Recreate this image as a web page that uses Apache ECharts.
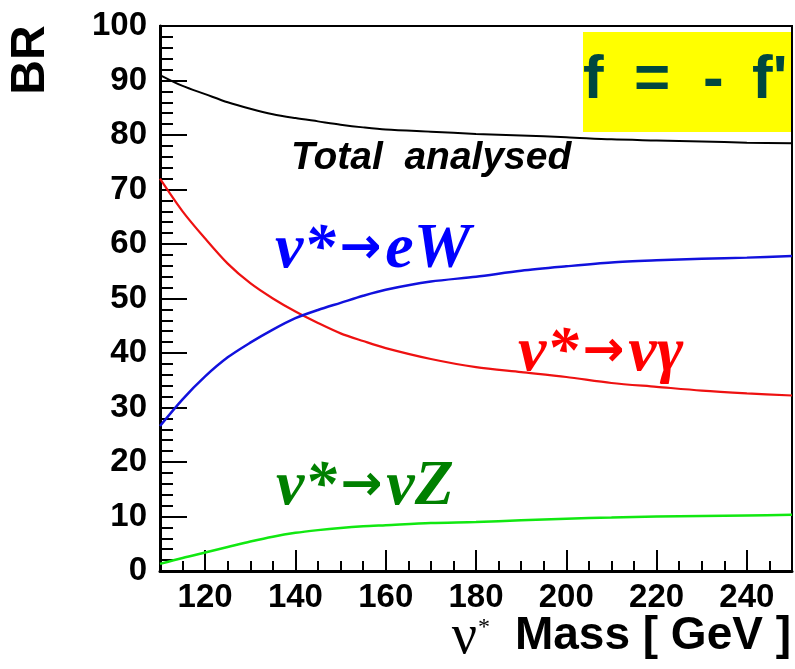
<!DOCTYPE html>
<html>
<head>
<meta charset="utf-8">
<style>
  body { margin: 0; background-color: #fff; }
  #main { width: 795px; height: 669px; }
</style>
</head>
<body>
<div id="main"></div>
<script src="https://cdn.jsdelivr.net/npm/echarts@6/dist/echarts.min.js"></script>
<script>
// nu* mass in GeV and branching ratios in %
var masses  = [110, 115, 120, 125, 130, 135, 140, 145, 150, 155, 160, 170, 180, 190, 200, 210, 220, 230, 240, 250];
var totalBR = [91.0, 89.0, 87.5, 86.0, 84.8, 83.8, 83.1, 82.5, 81.9, 81.4, 81.0, 80.6, 80.2, 79.9, 79.6, 79.2, 79.0, 78.8, 78.6, 78.5];
var gammaBR = [72.0, 66.0, 61.0, 56.4, 52.8, 50.0, 47.6, 45.5, 43.6, 42.2, 40.9, 38.9, 37.4, 36.5, 35.6, 34.5, 33.8, 33.1, 32.6, 32.2];
var eWBR    = [26.6, 31.5, 35.7, 39.2, 41.9, 44.3, 46.4, 47.9, 49.2, 50.5, 51.6, 53.1, 54.0, 55.1, 55.9, 56.6, 57.0, 57.3, 57.5, 57.8];
var zBR     = [1.3, 2.4, 3.4, 4.4, 5.4, 6.3, 7.0, 7.5, 7.9, 8.2, 8.4, 8.8, 9.0, 9.3, 9.6, 9.8, 10.0, 10.1, 10.2, 10.3];
var xLabels = [120, 140, 160, 180, 200, 220, 240];

function pairs(ys) {
    var out = [];
    for (var i = 0; i < masses.length; i++) out.push([masses[i], ys[i]]);
    return out;
}

var sans = '"Liberation Sans", Arial, sans-serif';
var serif = '"Liberation Serif", "Times New Roman", serif';

// decay label: nu* -> products, with a heavy arrow
function decayLabel(x, y, products, color) {
    return {
        type: 'text', x: x, y: y,
        style: {
            text: '{p|ν*}{arr|→}{p|' + products + '}',
            verticalAlign: 'middle',
            rich: {
                p: { font: 'italic bold 64px ' + serif, fill: color },
                arr: { font: 'bold 50px "DejaVu Sans"', fill: color, padding: [0, 4, 0, 4] }
            }
        }
    };
}

var myChart = echarts.init(document.getElementById('main'));

var option = {
    animation: false,
    backgroundColor: '#fff',
    grid: {
        left: 160, right: 3, top: 26, bottom: 98,
        show: true, borderColor: '#000', borderWidth: 2,
        outerBoundsMode: 'none'
    },
    xAxis: [
        {
            type: 'value', min: 110, max: 250, interval: 5, position: 'bottom',
            axisLine: { show: true, lineStyle: { color: '#000', width: 3 } },
            axisTick: { show: true, inside: true, length: 10, lineStyle: { color: '#000', width: 2 } },
            axisLabel: { show: false },
            splitLine: { show: false }
        },
        {
            type: 'value', min: 110, max: 250, position: 'bottom',
            axisLine: { show: false },
            axisTick: { show: true, inside: true, length: 21, customValues: xLabels, lineStyle: { color: '#000', width: 2 } },
            axisLabel: {
                show: true, customValues: xLabels, margin: 10,
                fontSize: 33, fontWeight: 'bold', fontFamily: sans, color: '#000'
            },
            splitLine: { show: false }
        }
    ],
    yAxis: {
        type: 'value', min: 0, max: 100, interval: 10,
        axisLine: { show: true, lineStyle: { color: '#000', width: 3 } },
        axisTick: { show: true, inside: true, length: 27, lineStyle: { color: '#000', width: 2 } },
        minorTick: { show: true, splitNumber: 5, length: 13, lineStyle: { color: '#000', width: 2 } },
        axisLabel: { margin: 13, fontSize: 33, fontWeight: 'bold', fontFamily: sans, color: '#000' },
        splitLine: { show: false },
        minorSplitLine: { show: false }
    },
    series: [
        { name: 'Total analysed', type: 'line', data: pairs(totalBR), smooth: 0.3, showSymbol: false, lineStyle: { color: '#000', width: 2 } },
        { name: 'nu gamma', type: 'line', data: pairs(gammaBR), smooth: 0.3, showSymbol: false, lineStyle: { color: '#ee1111', width: 2.2 } },
        { name: 'eW', type: 'line', data: pairs(eWBR), smooth: 0.3, showSymbol: false, lineStyle: { color: '#1111dd', width: 2.5 } },
        { name: 'nu Z', type: 'line', data: pairs(zBR), smooth: 0.3, showSymbol: false, lineStyle: { color: '#11e811', width: 2.5 } }
    ],
    graphic: [
        { type: 'rect', z: 100, shape: { x: 583, y: 32, width: 208, height: 100 }, style: { fill: '#ffff00' } },
        { type: 'text', z: 101, x: 583, y: 81, style: { text: 'f', verticalAlign: 'middle', font: 'bold 62px ' + sans, fill: '#00473f' } },
        { type: 'text', z: 101, x: 634, y: 81, style: { text: '=', verticalAlign: 'middle', font: 'bold 62px ' + sans, fill: '#00473f' } },
        { type: 'text', z: 101, x: 703, y: 81, style: { text: '-', verticalAlign: 'middle', font: 'bold 62px ' + sans, fill: '#00473f' } },
        { type: 'text', z: 101, x: 752, y: 81, style: { text: "f'", verticalAlign: 'middle', font: 'bold 62px ' + sans, fill: '#00473f' } },
        { type: 'text', x: 31, y: 60, rotation: Math.PI / 2, style: { text: 'BR', align: 'center', verticalAlign: 'middle', font: 'bold 48px ' + sans, fill: '#000' } },
        { type: 'text', x: 291, y: 158, style: { text: 'Total  analysed', verticalAlign: 'middle', font: 'italic bold 39px ' + sans, fill: '#000' } },
        decayLabel(275, 250, 'eW', '#0000ff'),
        decayLabel(518, 353, 'νγ', '#ff0000'),
        decayLabel(276, 487, 'νZ', '#008000'),
        { type: 'text', x: 791, y: 636, style: { text: 'Mass [ GeV ]', align: 'right', verticalAlign: 'middle', font: 'bold 46px ' + sans, fill: '#000' } },
        { type: 'text', x: 477, y: 638, style: { text: 'ν', align: 'right', verticalAlign: 'middle', font: '56px ' + serif, fill: '#000' } },
        { type: 'text', x: 478, y: 628, style: { text: '*', align: 'left', verticalAlign: 'middle', font: '24px ' + serif, fill: '#000' } }
    ]
};

myChart.setOption(option);
</script>
</body>
</html>
